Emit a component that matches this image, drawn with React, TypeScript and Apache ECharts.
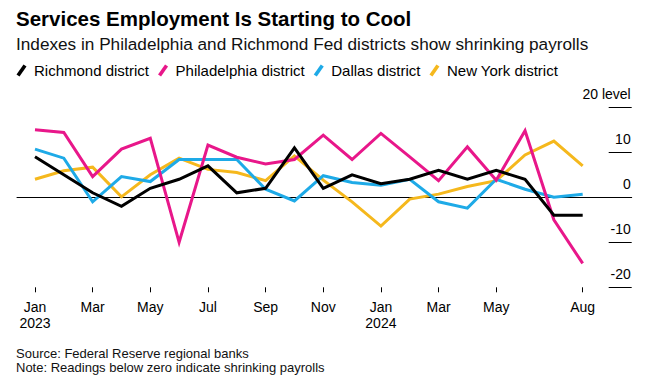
import React, { useEffect, useRef } from "react";
import * as echarts from "echarts";

const monthLabels = ["Jan", "Feb", "Mar", "Apr", "May", "Jun", "Jul", "Aug", "Sep", "Oct", "Nov", "Dec", "Jan", "Feb", "Mar", "Apr", "May", "Jun", "Jul", "Aug"];
const yearLabels: Record<number, string> = { 0: "2023", 12: "2024" };
const labelledMonths = [0, 2, 4, 6, 8, 10, 12, 14, 16, 19];

const richmond = [9, 5, 1, -2, 2, 4, 7, 1, 2, 11, 2, 5, 3, 4, 6, 4, 6, 4, -4, -4];
const philadelphia = [15, 14.4, 4.6, 10.7, 13.1, -10, 11.6, 8.9, 7.4, 8.4, 13.8, 8.4, 14.2, 9, 3.7, 11.2, 3.8, 14.8, -5, -14.7];
const dallas = [10.7, 8.7, -1, 4.6, 3.5, 8.4, 8.4, 8.4, 1.8, -0.8, 4.8, 3.3, 2.7, 4, -1, -2.4, 4, 1.8, 0, 0.7];
const newYork = [4, 5.9, 6.7, 0.1, 5, 8.7, 6.2, 5.5, 3.7, 9.2, 3.8, -1, -6.4, -0.4, 0.7, 2.4, 3.7, 9.4, 12.5, 7];

const seriesNames = ["Richmond district", "Philadelphia district", "Dallas district", "New York district"];
const seriesColors = ["#000000", "#e8178a", "#1eaae7", "#f5b81d"];

const FONT = "'Liberation Sans', Arial, sans-serif";

export default function App() {
  const ref = useRef<HTMLDivElement>(null);

  useEffect(() => {
    if (!ref.current) return;
    const chart = echarts.init(ref.current, undefined, { renderer: "svg" });
    const values = [richmond, philadelphia, dallas, newYork];
    const toPairs = (arr: number[]) => arr.map((v, i) => [i, v]);
    const order = [3, 2, 1, 0];
    const series = order.map((k) => ({
      name: seriesNames[k],
      type: "line",
      xAxisIndex: 0,
      yAxisIndex: 0,
      data: toPairs(values[k]),
      showSymbol: false,
      symbol: "none",
      color: seriesColors[k],
      lineStyle: { width: 3, color: seriesColors[k], join: "miter" },
      emphasis: { disabled: true },
    }));

    chart.setOption({
      animation: false,
      backgroundColor: "#ffffff",
      textStyle: { fontFamily: FONT },
      title: [
        {
          text: "Services Employment Is Starting to Cool",
          left: 16,
          top: 8,
          padding: 0,
          textStyle: { fontFamily: FONT, fontSize: 20.5, fontWeight: "bold", color: "#000" },
        },
        {
          text: "Indexes in Philadelphia and Richmond Fed districts show shrinking payrolls",
          left: 16,
          top: 35,
          padding: 0,
          textStyle: { fontFamily: FONT, fontSize: 17.2, fontWeight: "normal", color: "#111" },
        },
        {
          text: "Source: Federal Reserve regional banks\nNote: Readings below zero indicate shrinking payrolls",
          left: 16,
          top: 346,
          padding: 0,
          textStyle: { fontFamily: FONT, fontSize: 13, fontWeight: "normal", color: "#111", lineHeight: 14.5 },
        },
      ],
      legend: {
        data: seriesNames,
        left: 16.5,
        top: 63,
        padding: 0,
        itemGap: 9,
        itemWidth: 15,
        itemHeight: 12,
        icon: "path://M7,0 L10,2 L3,12 L0,10 Z",
        selectedMode: false,
        textStyle: { fontFamily: FONT, fontSize: 15, color: "#000" },
      },
      grid: { left: 17, right: 17.3, top: 107.3, bottom: 95.7, containLabel: false },
      xAxis: [
        {
          type: "value",
          position: "top",
          min: -0.624,
          max: 20.7,
          axisLine: { show: true, onZero: true, lineStyle: { color: "#000", width: 1 } },
          axisTick: { show: false },
          axisLabel: { show: false },
          splitLine: { show: false },
        },
        {
          type: "value",
          position: "bottom",
          min: -0.624,
          max: 20.7,
          axisLine: { show: false, onZero: false },
          axisTick: {
            show: true,
            customValues: labelledMonths,
            length: 5,
            lineStyle: { color: "#000", width: 1 },
          },
          axisLabel: {
            show: true,
            customValues: labelledMonths,
            margin: 12,
            fontFamily: FONT,
            fontSize: 14,
            lineHeight: 16,
            color: "#000",
            verticalAlign: "top",
            formatter: (v: number) => {
              const i = Math.round(v);
              const y = yearLabels[i];
              return y ? monthLabels[i] + "\n" + y : monthLabels[i];
            },
          },
          splitLine: { show: false },
        },
      ],
      yAxis: {
        type: "value",
        position: "right",
        min: -20,
        max: 20,
        interval: 10,
        axisLine: { show: false, onZero: false },
        axisTick: { show: true, inside: true, length: 23, lineStyle: { color: "#000", width: 1 } },
        axisLabel: {
          inside: true,
          margin: 1,
          fontFamily: FONT,
          fontSize: 14,
          color: "#000",
          verticalAlign: "bottom",
          padding: [0, 0, 6, 0],
          formatter: (v: number) => (v === 20 ? "20 level" : String(v)),
        },
        splitLine: { show: false },
      },
      series,
    });

    return () => {
      chart.dispose();
    };
  }, []);

  return (
    <div
      ref={ref}
      style={{ position: "absolute", left: 0, top: 0, width: 649, height: 383, background: "#fff" }}
    />
  );
}
